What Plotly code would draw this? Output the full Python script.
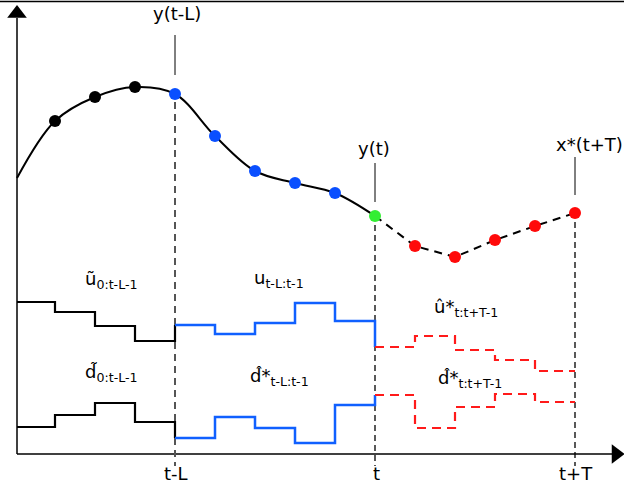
import plotly.graph_objects as go

# ---- data (time steps k, values in diagram units) ----
k_start = 0.05
k_hist = [1, 2, 3]                      # black measured points
y_hist = [371, 395, 405]
k_past = [4, 5, 6, 7, 8]                # blue points (t-L .. t-1)
y_past = [398, 356, 321, 309, 299]
k_now = [9]                              # green point y(t)
y_now = [276]
k_pred = [10, 11, 12, 13, 14]            # red predicted points
y_pred = [246, 235, 252, 266, 279]
y_curve_start = 314

u_old = [190, 180, 166, 151]             # ũ 0:t-L-1
d_old = [65, 77, 89, 70]                 # d̃ 0:t-L-1
u_past = [167, 158, 169, 189, 171]       # u t-L:t-1
d_past = [54, 75, 64, 49, 87]            # d̂* t-L:t-1
u_pred = [145, 156, 142, 132, 121]       # û* t:t+T-1
d_pred = [97, 64, 85, 98, 90]            # d̂* t:t+T-1

k_tL, k_t, k_tT = 4, 9, 14
tick_labels = ["t-L", "t", "t+T"]
axis_y = 38

W, H = 624, 492
def px2x(px):
    return (px - 15) / 40.0
def px2y(py):
    return H - py

fig = go.Figure()

# axes
fig.add_trace(go.Scatter(x=[k_start, k_start], y=[axis_y, px2y(18)], mode="lines",
                         line=dict(color="black", width=1.5), hoverinfo="skip"))
fig.add_trace(go.Scatter(x=[k_start, px2x(613)], y=[axis_y, axis_y], mode="lines",
                         line=dict(color="black", width=1.5), hoverinfo="skip"))
fig.add_trace(go.Scatter(x=[k_start], y=[px2y(13.5)], mode="markers",
                         marker=dict(symbol="triangle-up", size=17, color="black"), hoverinfo="skip"))
fig.add_trace(go.Scatter(x=[px2x(616)], y=[axis_y], mode="markers",
                         marker=dict(symbol="triangle-right", size=17, color="black"), hoverinfo="skip"))

# vertical dashed markers
fig.add_trace(go.Scatter(x=[k_tL, k_tL], y=[y_past[0] - 8, px2y(466)], mode="lines",
                         line=dict(color="#555555", width=2, dash="7px,5px"), hoverinfo="skip"))
fig.add_trace(go.Scatter(x=[k_t, k_t], y=[y_now[0] - 9, px2y(466)], mode="lines",
                         line=dict(color="black", width=1.3, dash="6px,4px"), hoverinfo="skip"))
fig.add_trace(go.Scatter(x=[k_tT, k_tT], y=[y_pred[-1] - 9, px2y(466)], mode="lines",
                         line=dict(color="black", width=1.3, dash="6px,4px"), hoverinfo="skip"))

# label leader lines
for kk, top, bot in [(k_tL, 35, 75), (k_t, 163, 202), (k_tT, 157, 195)]:
    fig.add_trace(go.Scatter(x=[kk, kk], y=[px2y(top), px2y(bot)], mode="lines",
                             line=dict(color="black", width=1), hoverinfo="skip"))

# output curve
kc = [k_start] + k_hist + k_past + k_now
yc = [y_curve_start] + y_hist + y_past + y_now
fig.add_trace(go.Scatter(x=kc, y=yc, mode="lines", line=dict(color="black", width=2, shape="spline", smoothing=1.0),
                         hoverinfo="skip"))
fig.add_trace(go.Scatter(x=k_now + k_pred, y=y_now + y_pred, mode="lines",
                         line=dict(color="black", width=2, dash="8px,6px"), hoverinfo="skip"))

# steps
def steps(ks, vals, nxt, color, dash=None, width=2.2):
    x = list(ks) + [ks[-1] + 1]
    y = list(vals) + [nxt]
    fig.add_trace(go.Scatter(x=x, y=y, mode="lines",
                             line=dict(color=color, width=width, shape="hv", dash=dash), hoverinfo="skip"))

k_old = [k_start, 1, 2, 3]
steps(k_old, u_old, u_past[0], "black")
steps(k_old, d_old, d_past[0], "black")
steps([4, 5, 6, 7, 8], u_past, u_pred[0], "#1060ff", width=2.5)
steps([4, 5, 6, 7, 8], d_past, d_pred[0], "#1060ff", width=2.5)
steps([9, 10, 11, 12, 13], u_pred, u_pred[-1], "#ff1a1a", dash="9px,6px")
steps([9, 10, 11, 12, 13], d_pred, d_pred[-1], "#ff1a1a", dash="9px,6px")

# points
fig.add_trace(go.Scatter(x=k_hist, y=y_hist, mode="markers", marker=dict(size=12, color="black"), hoverinfo="skip"))
fig.add_trace(go.Scatter(x=k_past, y=y_past, mode="markers", marker=dict(size=12, color="#0a4fff"), hoverinfo="skip"))
fig.add_trace(go.Scatter(x=k_now, y=y_now, mode="markers", marker=dict(size=12, color="#33ee33"), hoverinfo="skip"))
fig.add_trace(go.Scatter(x=k_pred, y=y_pred, mode="markers", marker=dict(size=12, color="#ff0a0a"), hoverinfo="skip"))

F = "DejaVu Sans"
def label(text, xpx, ypx, anchor="center", size=18):
    fig.add_annotation(x=px2x(xpx), y=px2y(ypx), text=text, showarrow=False,
                       xanchor=anchor, yanchor="middle", font=dict(family=F, size=size, color="black"))

label("y(t-L)", 177, 13)
label("y(t)", 374, 148)
label("x*(t+T)", 554, 144, anchor="left")
for kk, t in zip([k_tL, k_t, k_tT], tick_labels):
    label(t, 15 + 40 * kk + 1, 473)

label("\u0169<sub>0:t-L-1</sub>", 83, 280, anchor="left")
label("d\u0303<sub>0:t-L-1</sub>", 83, 373, anchor="left")
label("u<sub>t-L:t-1</sub>", 252, 279, anchor="left")
label("d\u0302*<sub>t-L:t-1</sub>", 248, 377, anchor="left")
label("\u00fb*<sub>t:t+T-1</sub>", 432, 308, anchor="left")
label("d\u0302*<sub>t:t+T-1</sub>", 436, 379, anchor="left")

fig.add_shape(type="line", xref="paper", yref="paper", x0=0, x1=1, y0=1 - 1.5 / H, y1=1 - 1.5 / H,
              line=dict(color="black", width=1.5))

fig.update_layout(
    width=W, height=H, margin=dict(l=0, r=0, t=0, b=0),
    paper_bgcolor="white", plot_bgcolor="white", showlegend=False,
    xaxis=dict(range=[px2x(0), px2x(W)], visible=False, fixedrange=True),
    yaxis=dict(range=[0, H], visible=False, fixedrange=True),
)
fig.write_html("out.html", config={"displayModeBar": False},
               post_script="document.body.style.margin='0';document.body.style.overflow='hidden';")
